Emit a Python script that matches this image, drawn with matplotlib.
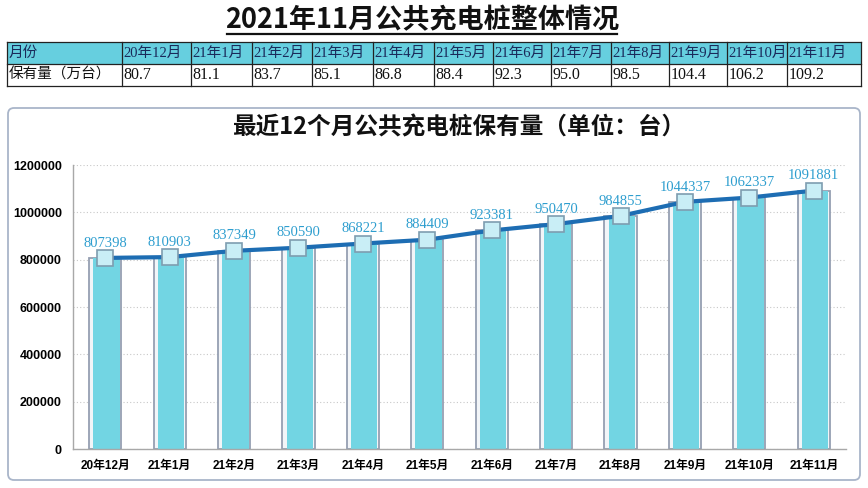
import matplotlib.pyplot as plt
from matplotlib.patches import Rectangle, FancyBboxPatch

plt.rcParams['font.family'] = ['Noto Sans CJK SC', 'DejaVu Sans']

# data
months = ['20年12月', '21年1月', '21年2月', '21年3月', '21年4月', '21年5月',
          '21年6月', '21年7月', '21年8月', '21年9月', '21年10月', '21年11月']
stock_wan = [80.7, 81.1, 83.7, 85.1, 86.8, 88.4, 92.3, 95.0, 98.5, 104.4, 106.2, 109.2]
stock = [807398, 810903, 837349, 850590, 868221, 884409,
         923381, 950470, 984855, 1044337, 1062337, 1091881]
yticks = [0, 200000, 400000, 600000, 800000, 1000000, 1200000]

fig = plt.figure(figsize=(8.68, 4.88), dpi=100)

# background layer in pixel coords for title / table / frame
bg = fig.add_axes([0, 0, 1, 1])
bg.set_xlim(0, 868)
bg.set_ylim(488, 0)
bg.axis('off')

bg.text(422, 20, '2021年11月公共充电桩整体情况', ha='center', va='center',
        fontsize=19.5, fontweight='bold', color='#111111')
bg.plot([227, 617], [34, 34], color='#111111', lw=1.6)

# table
col_edges = [7, 122, 191, 252, 312, 373, 434, 493, 551, 611, 669, 727, 787, 861]
tfont = ['Liberation Serif', 'Noto Sans CJK SC']
bg.add_patch(Rectangle((7, 42), 854, 22, facecolor='#66CFDF', edgecolor='none'))
for xe in col_edges:
    bg.plot([xe, xe], [42, 86], color='#222222', lw=0.9)
for ye in [42, 64, 86]:
    bg.plot([7, 861], [ye, ye], color='#222222', lw=0.9)
bg.text(9, 53, '月份', ha='left', va='center', fontsize=10.5, color='#1a2a5a', family=tfont)
bg.text(9, 75, '保有量（万台）', ha='left', va='center', fontsize=10.5, color='#111111', family=tfont)
for i, (m, v) in enumerate(zip(months, stock_wan)):
    x0 = col_edges[i + 1] + 1.5
    bg.text(x0, 53, m, ha='left', va='center', fontsize=10.5, color='#1a2a5a', family=tfont)
    bg.text(x0, 75, f'{v:.1f}', ha='left', va='center', fontsize=11.5, color='#111111', family=tfont)

# chart frame
bg.add_patch(FancyBboxPatch((8, 108), 852, 372, boxstyle='round,pad=0,rounding_size=6',
                            facecolor='white', edgecolor='#A9B5C9', lw=1.3))
bg.text(459, 127, '最近12个月公共充电桩保有量（单位：台）', ha='center', va='center',
        fontsize=17, fontweight='bold', color='#111111')

# main chart
ax = fig.add_axes([73 / 868, 1 - 449 / 488, (846 - 73) / 868, (449 - 165) / 488])
ax.patch.set_alpha(0)
x = list(range(len(months)))
# bar with light frame + cyan inner fill
ax.bar(x, stock, width=0.5, color='#F2F5F8', edgecolor='#959FB2', linewidth=1.3, zorder=2)
ax.bar([xi + 0.02 for xi in x], stock, width=0.41, color='#72D5E3', edgecolor='none', zorder=2)
ax.plot(x, stock, color='#1D6DB3', lw=3, zorder=3,
        marker='s', markersize=11, markerfacecolor='#C9EEF6',
        markeredgecolor='#7E9DB0', markeredgewidth=1.2)
for xi, v in zip(x, stock):
    ax.annotate(str(v), (xi, v), xytext=(0, 6), textcoords='offset points',
                ha='center', va='bottom', fontsize=10.5, color='#2E9ECF',
                family='Liberation Serif', zorder=4)

ax.set_xlim(-0.5, len(months) - 0.5)
ax.set_ylim(0, 1200000)
ax.set_yticks(yticks)
ax.set_yticklabels([str(t) for t in yticks], fontsize=9, fontweight='bold',
                   family=['Liberation Sans', 'Noto Sans CJK SC'])
ax.set_xticks(x)
ax.set_xticklabels(months, fontsize=8.5, fontweight='bold',
                   family=['Liberation Sans', 'Noto Sans CJK SC'])
ax.tick_params(axis='both', length=0)
ax.tick_params(axis='y', pad=8)
ax.tick_params(axis='x', pad=8)
ax.yaxis.grid(True, linestyle=(0, (1, 2)), color='#C8C8C8', lw=0.8, zorder=0)
ax.set_axisbelow(True)
for s in ['top', 'right']:
    ax.spines[s].set_visible(False)
for s in ['left', 'bottom']:
    ax.spines[s].set_color('#A8A8A8')
    ax.spines[s].set_linewidth(1.0)

fig.savefig('out.png', dpi=100)
